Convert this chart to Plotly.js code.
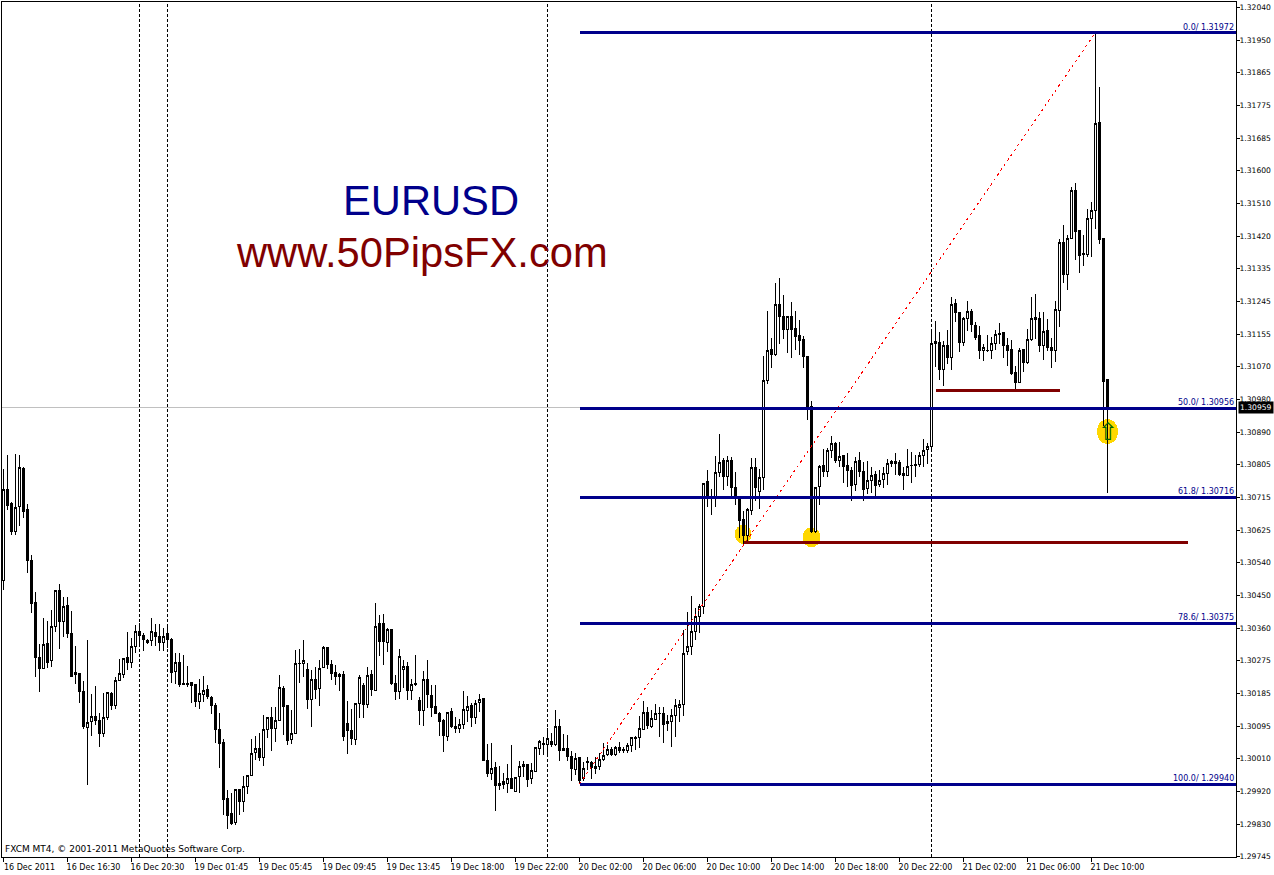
<!DOCTYPE html>
<html><head><meta charset="utf-8">
<script src="https://cdn.plot.ly/plotly-3.0.1.min.js"></script>
<style>html,body{margin:0;padding:0;background:#fff}#c{width:1274px;height:875px}
#c path{shape-rendering:crispEdges}</style></head><body><div id="c"></div>
<script>
// Prices are quoted in points (1e-5) above this base.
const priceBase = 1.29;
const directions = ("UDDUUDDDDD UDUUDUDDUD DUUDDUUDUU UDUUDDDUDD UDDUDDDDDU UDDDDDDDUD UUUUDUUDUU DDUUUUDUDU UDDDDDDDUU DUDUDDUDDU "+
 "UDUDDUDDDD DUDDUUUDUU DDUDUDUDUU UDUUUDUDUD DDDUDUDDUU UUDUDDUUDU UDUUDDUUUU UUUUUUDUUU DUDDDDUUDU UUDUDDUDDD "+
 "DDDUUDUUDU DDDUDDUUDU UUDDDDUUDU UUUUDUDUDD UUDDDUUUUD DDDDUDUUUD UDDUUDUUDD DUUUDDD").replace(/ /g,"");
const highs = [1793,1829,1703,1832,1829,1798,1696,1558,1458,1318,
1389,1380,1410,1463,1482,1446,1445,1408,1313,1241,
1219,1329,1183,1205,1131,1185,1190,1188,1230,1277,
1282,1351,1334,1370,1376,1349,1331,1390,1372,1372,
1361,1367,1334,1293,1293,1289,1259,1217,1209,1224,
1232,1208,1178,1158,1133,1063,925,915,925,925,
961,965,1063,1070,1077,1126,1120,1147,1149,1235,
1205,1153,1140,1303,1304,1330,1267,1249,1256,1276,
1314,1309,1276,1261,1241,1246,1165,1142,1160,1235,
1213,1256,1249,1429,1397,1400,1361,1360,1235,1304,
1276,1271,1223,1289,1176,1246,1276,1207,1208,1135,
1117,1134,1146,1122,1115,1191,1178,1160,1166,1184,
1172,1049,1050,999,989,971,994,1046,958,1001,
1001,994,996,1039,1059,1068,1091,1077,1140,1115,
1076,1073,1030,1023,1014,1000,1012,1003,1014,1023,
1050,1045,1041,1043,1053,1039,1052,1068,1070,1124,
1164,1149,1140,1155,1147,1147,1126,1144,1169,1167,
1356,1405,1448,1415,1426,1753,1789,1738,1827,1887,
1821,1827,1823,1784,1717,1677,1685,1821,1821,1791,
2097,2218,2145,2294,2307,2262,2206,2243,2218,2195,
2152,2097,1976,1744,1803,1846,1848,1881,1866,1866,
1830,1836,1798,1825,1838,1812,1814,1798,1785,1789,
1798,1818,1816,1836,1816,1798,1846,1839,1830,1838,
1872,1861,2163,2192,2162,2138,2168,2258,2252,2217,
2204,2246,2224,2188,2179,2129,2154,2150,2168,2187,
2163,2145,2141,2070,2118,2116,2170,2256,2264,2216,
2216,2197,2145,2247,2414,2452,2425,2555,2564,2438,
2425,2495,2515,2972,2826,2416,2033];
const bodyTops = [1737,1737,1699,1688,1796,1793,1681,1545,1431,1282,
1318,1320,1366,1462,1462,1420,1423,1347,1242,1239,
1191,1107,1123,1123,1112,1120,1188,1185,1220,1239,
1280,1282,1312,1353,1353,1342,1329,1353,1350,1340,
1339,1347,1331,1269,1269,1212,1212,1215,1208,1185,
1194,1196,1175,1151,1088,1053,901,859,924,924,
933,964,1023,1036,1036,1088,1120,1120,1112,1201,
1199,1153,1077,1267,1267,1275,1249,1223,1223,1253,
1308,1308,1262,1242,1235,1235,1103,1086,1158,1229,
1207,1234,1235,1367,1375,1373,1359,1359,1213,1286,
1258,1259,1210,1213,1167,1222,1222,1180,1150,1131,
1111,1134,1135,1096,1102,1142,1150,1151,1158,1169,
1170,1004,983,984,942,946,956,956,958,988,
994,994,976,1038,1056,1050,1064,1056,1096,1095,
1035,1035,1015,1010,1011,983,1002,999,988,1006,
1018,1033,1033,1039,1039,1033,1043,1066,1067,1090,
1134,1134,1117,1131,1131,1131,1109,1126,1151,1155,
1293,1313,1353,1392,1420,1753,1759,1714,1783,1810,
1814,1814,1816,1742,1715,1654,1681,1796,1796,1769,
2032,2113,2114,2237,2237,2205,2203,2203,2172,2152,
2143,2097,1960,1742,1799,1802,1842,1861,1862,1825,
1827,1800,1789,1813,1815,1786,1761,1775,1776,1761,
1780,1807,1811,1811,1808,1780,1799,1802,1805,1829,
1842,1853,2132,2137,2134,2125,2125,2237,2238,2216,
2199,2218,2218,2179,2153,2121,2113,2132,2156,2157,
2160,2125,2116,2053,2111,2114,2143,2199,2202,2199,
2164,2165,2121,2222,2405,2405,2416,2546,2546,2436,
2375,2468,2491,2727,2730,2414,2033];
const bodyBottoms = [1491,1694,1622,1622,1690,1676,1544,1427,1281,1252,
1253,1268,1273,1365,1379,1379,1346,1232,1235,1190,
1095,1092,1108,1111,1076,1076,1119,1153,1152,1219,
1235,1268,1268,1311,1341,1330,1322,1327,1338,1322,
1323,1330,1241,1244,1208,1208,1208,1206,1162,1162,
1181,1176,1153,1088,1050,898,856,832,835,892,
892,933,963,1025,1012,1012,1088,1089,1089,1112,
1149,1057,1061,1077,1265,1266,1168,1168,1195,1198,
1255,1262,1240,1230,1231,1068,1085,1062,1060,1158,
1155,1155,1195,1194,1325,1325,1323,1211,1190,1190,
1250,1193,1193,1209,1139,1139,1181,1147,1131,1109,
1070,1068,1095,1089,1090,1101,1139,1119,1119,1160,
1003,968,968,936,936,940,941,927,920,960,
987,951,954,974,1036,1048,1048,1046,1046,1030,
1031,1014,981,979,949,954,997,985,981,987,
1007,1019,1021,1019,1030,1030,1030,1043,1063,1065,
1088,1097,1095,1114,1130,1102,1103,1108,1125,1146,
1154,1298,1311,1353,1392,1421,1712,1712,1713,1782,
1771,1771,1741,1714,1652,1613,1613,1679,1741,1731,
1769,2031,2101,2101,2204,2169,2169,2170,2150,2139,
2097,1959,1622,1622,1744,1785,1785,1843,1814,1814,
1798,1787,1747,1749,1786,1735,1739,1762,1746,1749,
1763,1779,1807,1807,1778,1773,1774,1800,1800,1804,
1828,1844,1852,2131,2060,2060,2093,2093,2215,2134,
2134,2198,2182,2146,2112,2112,2111,2112,2132,2156,
2125,2112,2050,2025,2025,2079,2079,2141,2196,2125,
2125,2121,2112,2112,2220,2317,2317,2416,2434,2369,
2371,2373,2468,2491,2411,2028,1959];
const lows = [1464,1681,1613,1613,1637,1660,1511,1403,1230,1190,
1252,1254,1257,1352,1305,1338,1336,1230,1210,1160,
1089,938,1070,1099,1040,1067,1113,1140,1143,1219,
1227,1248,1254,1295,1311,1300,1318,1314,1313,1300,
1300,1309,1214,1210,1203,1208,1203,1160,1147,1142,
1162,1171,1129,1052,982,856,817,829,829,856,
865,913,962,1005,1003,989,1065,1029,1054,1111,
1072,1045,1049,1076,1214,1228,1143,1093,1169,1151,
1253,1250,1220,1208,1192,1057,1022,1046,1046,1118,
1118,1145,1177,1193,1287,1262,1298,1208,1166,1169,
1199,1166,1166,1204,1100,1097,1145,1122,1129,1070,
1027,1057,1091,1079,1079,1089,1109,1095,1102,1136,
1003,960,951,868,924,926,917,926,919,917,
960,933,940,973,1019,1019,1019,1041,1044,1003,
1030,1001,947,965,940,947,978,954,966,978,
1003,1015,1015,1015,1024,1024,1023,1027,1033,1036,
1086,1090,1091,1113,1068,1050,1083,1041,1068,1108,
1124,1289,1289,1329,1347,1399,1688,1668,1688,1771,
1735,1746,1710,1695,1604,1589,1598,1668,1705,1684,
1735,2022,2064,2096,2130,2143,2106,2093,2114,2100,
2066,1924,1618,1618,1695,1771,1771,1821,1807,1798,
1755,1744,1706,1731,1771,1704,1724,1726,1720,1744,
1740,1749,1798,1776,1774,1735,1773,1753,1771,1798,
1798,1805,1843,2067,2033,2016,2076,2060,2189,2108,
2123,2166,2161,2141,2089,2084,2108,2089,2114,2129,
2093,2069,2046,2007,2025,2055,2076,2138,2142,2107,
2087,2111,2066,2082,2175,2294,2276,2414,2357,2323,
2341,2364,2364,2440,2400,1909,1728];

const timeTickBars = [0,16,32,48,64,80,96,112,128,144,160,176,192,208,224,240,256,272];
const timeTickLabels = ["16 Dec 2011","16 Dec 16:30","16 Dec 20:30","19 Dec 01:45","19 Dec 05:45","19 Dec 09:45","19 Dec 13:45","19 Dec 18:00","19 Dec 22:00","20 Dec 02:00","20 Dec 06:00","20 Dec 10:00","20 Dec 14:00","20 Dec 18:00","20 Dec 22:00","21 Dec 02:00","21 Dec 06:00","21 Dec 10:00"];
const priceTicks = [1.32040,1.31950,1.31865,1.31775,1.31685,1.31600,1.31510,1.31420,1.31335,1.31245,1.31155,1.31070,1.30980,1.30890,1.30805,1.30715,1.30625,1.30540,1.30450,1.30360,1.30275,1.30185,1.30095,1.30010,1.29920,1.29830,1.29745];

const fiboLevels = [1.31972,1.30956,1.30716,1.30375,1.29940];
const fiboNames = ["0.0/ 1.31972","50.0/ 1.30956","61.8/ 1.30716","78.6/ 1.30375","100.0/ 1.29940"];
const fiboStartBar = 144;
const chartEndBar = 308.125;
const trendBars = [144,273];
const trendPrices = [1.29940,1.31972];
const sessionBars = [34,41,136,232];
const bidPrice = 1.30959;
const levelBarsA = [185,296], levelPriceA = 1.30594;
const levelBarsB = [233,264], levelPriceB = 1.31005;
const spotBars = [184.9,202,276];
const spotPrices = [1.30615,1.30607,1.30893];
const spotW = [17,18,21], spotH = [19,20,25];
const arrowBar = 276, arrowPrice = 1.30893;

const bars = highs.map((_,i)=>i);
const px = v => +(priceBase + v/1e5).toFixed(5);
const opens = directions.split("").map((d,i)=>px(d==="U"?bodyBottoms[i]:bodyTops[i]));
const closes = directions.split("").map((d,i)=>px(d==="U"?bodyTops[i]:bodyBottoms[i]));

const NAVY="#00008B", MAROON="#800000";
const hline=(x,y,color,w)=>({type:"scatter",mode:"lines",x,y,line:{color,width:w},hoverinfo:"skip",showlegend:false,cliponaxis:true});

const traces=[
 {type:"candlestick",x:bars,open:opens,high:highs.map(px),low:lows.map(px),close:closes,
  increasing:{line:{color:"#000",width:1},fillcolor:"#fff"},
  decreasing:{line:{color:"#000",width:1},fillcolor:"#000"},
  whiskerwidth:0,hoverinfo:"skip",showlegend:false},
 {type:"scatter",mode:"lines",x:trendBars,y:trendPrices,line:{color:"#ff0000",width:1,dash:"2.5px,3.5px"},hoverinfo:"skip",showlegend:false},
 ...fiboLevels.map(l=>hline([fiboStartBar,chartEndBar],[l,l],NAVY,3)),
 hline(levelBarsA,[levelPriceA,levelPriceA],MAROON,3),
 hline(levelBarsB,[levelPriceB,levelPriceB],MAROON,3)
];

const shapes=[
 {type:"line",xref:"paper",x0:0,x1:1,yref:"y",y0:bidPrice,y1:bidPrice,layer:"below",line:{color:"#c0c0c0",width:1}},
 ...sessionBars.map(b=>({type:"line",xref:"x",x0:b,x1:b,yref:"paper",y0:0,y1:1,layer:"below",line:{color:"#000",width:1,dash:"3px,2px"}})),
 ...spotBars.map((b,i)=>({type:"circle",xref:"x",yref:"y",xsizemode:"pixel",ysizemode:"pixel",xanchor:b,yanchor:spotPrices[i],
   x0:-spotW[i]/2,x1:spotW[i]/2,y0:-spotH[i]/2,y1:spotH[i]/2,layer:"below",fillcolor:"#FFD700",line:{width:0}}))
];

const small={family:"DejaVu Sans",size:8};
const axisFont={family:"DejaVu Sans",size:7.6};
const annotations=[
 {xref:"paper",yref:"paper",x:(431-2)/1234,y:(857-200)/855,xanchor:"center",yanchor:"middle",text:"EURUSD",showarrow:false,font:{family:"Liberation Sans",size:41.7,color:NAVY}},
 {xref:"paper",yref:"paper",x:(422-2)/1234,y:(857-252)/855,xanchor:"center",yanchor:"middle",text:"www.50PipsFX.com",showarrow:false,font:{family:"Liberation Sans",size:41.7,color:MAROON}},
 ...fiboLevels.map((l,i)=>({xref:"paper",yref:"y",x:(1235.5-2)/1234,y:l,yshift:5.5,xanchor:"right",yanchor:"middle",text:fiboNames[i],showarrow:false,font:{...small,color:NAVY}})),
 {xref:"paper",yref:"paper",x:(3-2)/1234,y:(857-849)/855,xanchor:"left",yanchor:"middle",text:"FXCM MT4, © 2001-2011 MetaQuotes Software Corp.",showarrow:false,font:{family:"DejaVu Sans",size:9,color:"#000"}},
 {xref:"paper",yref:"y",x:(1238-2)/1234,y:bidPrice,xanchor:"left",yanchor:"middle",text:"1.30959",showarrow:false,bgcolor:"#000",borderpad:1,font:{...axisFont,color:"#fff"}},
 {xref:"x",yref:"y",x:arrowBar,y:arrowPrice,text:"⇧",showarrow:false,font:{family:"DejaVu Sans",size:24,color:"#006400"}}
];

const layout={
 width:1274,height:875,margin:{l:2,r:38,t:2,b:18,pad:0},autosize:false,
 paper_bgcolor:"#fff",plot_bgcolor:"#fff",showlegend:false,boxgap:0.5,boxgroupgap:0,
 font:{family:"DejaVu Sans",size:8,color:"#000"},
 xaxis:{range:[-0.375,chartEndBar],tickmode:"array",tickvals:timeTickBars,ticktext:timeTickLabels,ticks:"outside",ticklen:4,tickcolor:"#000",tickwidth:1,
   ticklabelshift:26,ticklabelstandoff:-2,showgrid:false,zeroline:false,showline:true,mirror:true,linecolor:"#000",linewidth:1,rangeslider:{visible:false},tickfont:small,fixedrange:true},
 yaxis:{range:[1.297426,1.320545],side:"right",tickmode:"array",tickvals:priceTicks,ticktext:priceTicks.map(v=>v.toFixed(5)),ticks:"outside",ticklen:3,tickcolor:"#000",tickwidth:1,
   ticklabelstandoff:-2,showgrid:false,zeroline:false,showline:true,mirror:true,linecolor:"#000",linewidth:1,tickfont:axisFont,fixedrange:true},
 shapes,annotations
};
Plotly.newPlot("c",traces,layout,{displayModeBar:false,staticPlot:true});
</script></body></html>
